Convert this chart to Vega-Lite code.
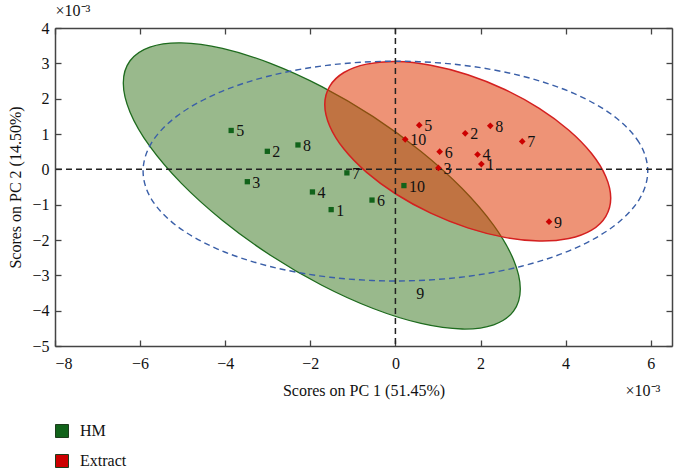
{
  "$schema": "https://vega.github.io/schema/vega-lite/v6.json",
  "width": 617,
  "height": 318,
  "autosize": {"type": "none"},
  "padding": {"left": 55, "top": 28, "right": 2, "bottom": 122},
  "background": "white",
  "config": {"view": {"stroke": null}, "font": "Liberation Serif"},
  "datasets": {
    "ell": [
      {"g": "HM", "i": 0, "x": 2.935, "y": -3.385},
      {"g": "HM", "i": 1, "x": 2.776, "y": -2.559},
      {"g": "HM", "i": 2, "x": 2.310, "y": -1.588},
      {"g": "HM", "i": 3, "x": 1.569, "y": -0.543},
      {"g": "HM", "i": 4, "x": 0.603, "y": 0.506},
      {"g": "HM", "i": 5, "x": -0.523, "y": 1.491},
      {"g": "HM", "i": 6, "x": -1.73, "y": 2.341},
      {"g": "HM", "i": 7, "x": -2.937, "y": 2.999},
      {"g": "HM", "i": 8, "x": -4.063, "y": 3.422},
      {"g": "HM", "i": 9, "x": -5.029, "y": 3.579},
      {"g": "HM", "i": 10, "x": -5.770, "y": 3.460},
      {"g": "HM", "i": 11, "x": -6.236, "y": 3.073},
      {"g": "HM", "i": 12, "x": -6.395, "y": 2.445},
      {"g": "HM", "i": 13, "x": -6.236, "y": 1.619},
      {"g": "HM", "i": 14, "x": -5.770, "y": 0.648},
      {"g": "HM", "i": 15, "x": -5.029, "y": -0.397},
      {"g": "HM", "i": 16, "x": -4.063, "y": -1.446},
      {"g": "HM", "i": 17, "x": -2.937, "y": -2.431},
      {"g": "HM", "i": 18, "x": -1.73, "y": -3.281},
      {"g": "HM", "i": 19, "x": -0.523, "y": -3.939},
      {"g": "HM", "i": 20, "x": 0.603, "y": -4.362},
      {"g": "HM", "i": 21, "x": 1.569, "y": -4.519},
      {"g": "HM", "i": 22, "x": 2.310, "y": -4.400},
      {"g": "HM", "i": 23, "x": 2.776, "y": -4.013},
      {"g": "Extract", "i": 0, "x": 5.06, "y": -0.814},
      {"g": "Extract", "i": 1, "x": 4.945, "y": -0.208},
      {"g": "Extract", "i": 2, "x": 4.61, "y": 0.447},
      {"g": "Extract", "i": 3, "x": 4.076, "y": 1.106},
      {"g": "Extract", "i": 4, "x": 3.38, "y": 1.725},
      {"g": "Extract", "i": 5, "x": 2.57, "y": 2.26},
      {"g": "Extract", "i": 6, "x": 1.70, "y": 2.677},
      {"g": "Extract", "i": 7, "x": 0.83, "y": 2.946},
      {"g": "Extract", "i": 8, "x": 0.02, "y": 3.049},
      {"g": "Extract", "i": 9, "x": -0.676, "y": 2.978},
      {"g": "Extract", "i": 10, "x": -1.21, "y": 2.741},
      {"g": "Extract", "i": 11, "x": -1.545, "y": 2.35},
      {"g": "Extract", "i": 12, "x": -1.66, "y": 1.834},
      {"g": "Extract", "i": 13, "x": -1.545, "y": 1.228},
      {"g": "Extract", "i": 14, "x": -1.21, "y": 0.573},
      {"g": "Extract", "i": 15, "x": -0.676, "y": -0.086},
      {"g": "Extract", "i": 16, "x": 0.02, "y": -0.705},
      {"g": "Extract", "i": 17, "x": 0.83, "y": -1.24},
      {"g": "Extract", "i": 18, "x": 1.70, "y": -1.657},
      {"g": "Extract", "i": 19, "x": 2.57, "y": -1.926},
      {"g": "Extract", "i": 20, "x": 3.38, "y": -2.029},
      {"g": "Extract", "i": 21, "x": 4.076, "y": -1.958},
      {"g": "Extract", "i": 22, "x": 4.61, "y": -1.721},
      {"g": "Extract", "i": 23, "x": 4.945, "y": -1.33},
      {"g": "All", "i": 0, "x": 5.93, "y": -0.05},
      {"g": "All", "i": 1, "x": 5.728, "y": 0.755},
      {"g": "All", "i": 2, "x": 5.135, "y": 1.505},
      {"g": "All", "i": 3, "x": 4.193, "y": 2.149},
      {"g": "All", "i": 4, "x": 2.965, "y": 2.643},
      {"g": "All", "i": 5, "x": 1.535, "y": 2.954},
      {"g": "All", "i": 6, "x": 0, "y": 3.06},
      {"g": "All", "i": 7, "x": -1.535, "y": 2.954},
      {"g": "All", "i": 8, "x": -2.965, "y": 2.643},
      {"g": "All", "i": 9, "x": -4.193, "y": 2.149},
      {"g": "All", "i": 10, "x": -5.135, "y": 1.505},
      {"g": "All", "i": 11, "x": -5.728, "y": 0.755},
      {"g": "All", "i": 12, "x": -5.93, "y": -0.05},
      {"g": "All", "i": 13, "x": -5.728, "y": -0.855},
      {"g": "All", "i": 14, "x": -5.135, "y": -1.605},
      {"g": "All", "i": 15, "x": -4.193, "y": -2.249},
      {"g": "All", "i": 16, "x": -2.965, "y": -2.743},
      {"g": "All", "i": 17, "x": -1.535, "y": -3.054},
      {"g": "All", "i": 18, "x": 0, "y": -3.16},
      {"g": "All", "i": 19, "x": 1.535, "y": -3.054},
      {"g": "All", "i": 20, "x": 2.965, "y": -2.743},
      {"g": "All", "i": 21, "x": 4.193, "y": -2.249},
      {"g": "All", "i": 22, "x": 5.135, "y": -1.605},
      {"g": "All", "i": 23, "x": 5.728, "y": -0.855}
    ],
    "pts": [
      {"g": "HM", "id": "1", "x": -1.51, "y": -1.14},
      {"g": "HM", "id": "2", "x": -3.01, "y": 0.51},
      {"g": "HM", "id": "3", "x": -3.48, "y": -0.35},
      {"g": "HM", "id": "4", "x": -1.95, "y": -0.64},
      {"g": "HM", "id": "5", "x": -3.86, "y": 1.10},
      {"g": "HM", "id": "6", "x": -0.55, "y": -0.87},
      {"g": "HM", "id": "7", "x": -1.14, "y": -0.10},
      {"g": "HM", "id": "8", "x": -2.29, "y": 0.69},
      {"g": "HM", "id": "9", "x": 0.37, "y": -3.51},
      {"g": "HM", "id": "10", "x": 0.20, "y": -0.46},
      {"g": "Extract", "id": "1", "x": 2.02, "y": 0.15},
      {"g": "Extract", "id": "2", "x": 1.64, "y": 1.02},
      {"g": "Extract", "id": "3", "x": 1.01, "y": 0.04},
      {"g": "Extract", "id": "4", "x": 1.93, "y": 0.42},
      {"g": "Extract", "id": "5", "x": 0.56, "y": 1.25},
      {"g": "Extract", "id": "6", "x": 1.04, "y": 0.50},
      {"g": "Extract", "id": "7", "x": 2.98, "y": 0.79},
      {"g": "Extract", "id": "8", "x": 2.23, "y": 1.23},
      {"g": "Extract", "id": "9", "x": 3.61, "y": -1.48},
      {"g": "Extract", "id": "10", "x": 0.23, "y": 0.85}
    ],
    "zero": [{"v": 0}]
  },
  "layer": [
    {
      "data": {"name": "ell"},
      "transform": [{"filter": "datum.g == 'HM'"}],
      "mark": {"type": "line", "interpolate": "cardinal-closed", "fill": "#33731a", "fillOpacity": 0.5, "stroke": "#1e6b1e", "strokeWidth": 1.3},
      "encoding": {
        "x": {"field": "x", "type": "quantitative", "scale": {"domain": [-8, 6.5], "nice": false, "zero": false},
          "axis": {"orient": "top", "values": [-8, -6, -4, -2, 0, 2, 4, 6], "labels": false, "grid": false, "tickSize": -6, "tickColor": "#444", "tickWidth": 1.3, "domainColor": "#444", "domainWidth": 1.5,
            "title": "×10⁻³", "titleX": 0, "titleY": -18, "titleAlign": "left", "titleBaseline": "middle", "titleFont": "Liberation Serif", "titleFontSize": 16, "titleFontWeight": "normal", "titleColor": "#111"}},
        "y": {"field": "y", "type": "quantitative", "scale": {"domain": [-5, 4], "nice": false, "zero": false},
          "axis": {"orient": "right", "values": [-5, -4, -3, -2, -1, 0, 1, 2, 3, 4], "labels": false, "grid": false, "tickSize": -6, "tickColor": "#444", "tickWidth": 1.3, "domainColor": "#444", "domainWidth": 1.5,
            "title": "×10⁻³", "titleAngle": 0, "titleX": -47, "titleY": 362, "titleAlign": "left", "titleBaseline": "middle", "titleFont": "Liberation Serif", "titleFontSize": 16, "titleFontWeight": "normal", "titleColor": "#111"}},
        "order": {"field": "i", "type": "quantitative"}
      }
    },
    {
      "data": {"name": "ell"},
      "transform": [{"filter": "datum.g == 'Extract'"}],
      "mark": {"type": "line", "interpolate": "cardinal-closed", "fill": "#e03a05", "fillOpacity": 0.55, "stroke": "#d42020", "strokeWidth": 1.5},
      "encoding": {
        "x": {"field": "x", "type": "quantitative", "axis": null},
        "y": {"field": "y", "type": "quantitative", "axis": null},
        "order": {"field": "i", "type": "quantitative"}
      }
    },
    {
      "data": {"name": "ell"},
      "transform": [{"filter": "datum.g == 'All'"}],
      "mark": {"type": "line", "interpolate": "cardinal-closed", "stroke": "#3a5fa8", "strokeWidth": 1.4, "strokeDash": [6, 4]},
      "encoding": {
        "x": {"field": "x", "type": "quantitative", "axis": null},
        "y": {"field": "y", "type": "quantitative", "axis": null},
        "order": {"field": "i", "type": "quantitative"}
      }
    },
    {
      "data": {"name": "zero"},
      "mark": {"type": "rule", "stroke": "#222", "strokeWidth": 1.5, "strokeDash": [6, 4]},
      "encoding": {"x": {"field": "v", "type": "quantitative", "axis": null}}
    },
    {
      "data": {"name": "zero"},
      "mark": {"type": "rule", "stroke": "#222", "strokeWidth": 1.5, "strokeDash": [6, 4]},
      "encoding": {"y": {"field": "v", "type": "quantitative", "axis": null}}
    },
    {
      "data": {"name": "pts"},
      "transform": [{"filter": "datum.g == 'HM' && datum.id != '9'"}],
      "mark": {"type": "point", "shape": "square", "filled": true, "size": 28, "opacity": 1},
      "encoding": {
        "x": {"field": "x", "type": "quantitative",
          "axis": {"orient": "bottom", "values": [-8, -6, -4, -2, 0, 2, 4, 6], "grid": false, "tickSize": -6, "tickColor": "#444", "tickWidth": 1.3, "domainColor": "#444", "domainWidth": 1.5,
            "labelFont": "Liberation Serif", "labelFontSize": 16, "labelColor": "#111", "labelPadding": 15,
            "title": "Scores on PC 1 (51.45%)", "titleFont": "Liberation Serif", "titleFontSize": 16, "titleFontWeight": "normal", "titleColor": "#111", "titlePadding": 11}},
        "y": {"field": "y", "type": "quantitative",
          "axis": {"orient": "left", "values": [-5, -4, -3, -2, -1, 0, 1, 2, 3, 4], "grid": false, "tickSize": -6, "tickColor": "#444", "tickWidth": 1.3, "domainColor": "#444", "domainWidth": 1.5,
            "labelFont": "Liberation Serif", "labelFontSize": 16, "labelColor": "#111", "labelPadding": 12,
            "title": "Scores on PC 2 (14.50%)", "titleFont": "Liberation Serif", "titleFontSize": 16, "titleFontWeight": "normal", "titleColor": "#111", "titlePadding": 8}},
        "color": {"field": "g", "type": "nominal", "scale": {"domain": ["HM", "Extract"], "range": ["#11631a", "#cc0000"]},
          "legend": {"orient": "none", "legendX": -1, "legendY": 395, "title": null, "symbolType": "square", "symbolSize": 169, "symbolStrokeColor": "#1d3d1d", "symbolStrokeWidth": 1, "labelFont": "Liberation Serif", "labelFontSize": 16, "labelColor": "#111", "labelOffset": 10, "rowPadding": 12, "padding": 0}}
      }
    },
    {
      "data": {"name": "pts"},
      "transform": [{"filter": "datum.g == 'Extract'"}],
      "mark": {"type": "point", "shape": "diamond", "filled": true, "size": 45, "opacity": 1},
      "encoding": {
        "x": {"field": "x", "type": "quantitative", "axis": null},
        "y": {"field": "y", "type": "quantitative", "axis": null},
        "color": {"field": "g", "type": "nominal"}
      }
    },
    {
      "data": {"name": "pts"},
      "mark": {"type": "text", "align": "left", "baseline": "middle", "dx": 5, "dy": 1, "font": "Liberation Serif", "fontSize": 16, "fill": "#111"},
      "encoding": {
        "x": {"field": "x", "type": "quantitative", "axis": null},
        "y": {"field": "y", "type": "quantitative", "axis": null},
        "text": {"field": "id", "type": "nominal"}
      }
    }
  ],
  "resolve": {"axis": {"x": "independent", "y": "independent"}}
}
